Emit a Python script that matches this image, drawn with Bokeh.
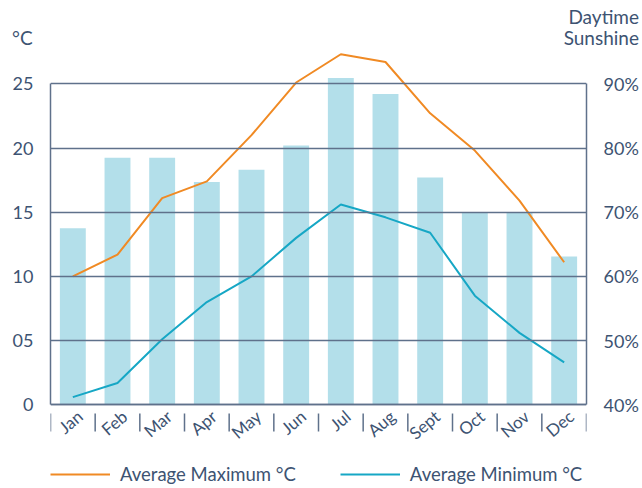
from bokeh.plotting import figure
from bokeh.layouts import column
from bokeh.models import (Range1d, LinearAxis, FixedTicker, Legend, LegendItem,
                          ColumnDataSource, Div)
from bokeh.embed import file_html
from bokeh.resources import INLINE

# ---------------- data ----------------
months = ["Jan", "Feb", "Mar", "Apr", "May", "Jun", "Jul", "Aug", "Sept", "Oct", "Nov", "Dec"]
sunshine_pct = [67.5, 78.5, 78.5, 74.7, 76.6, 80.4, 90.9, 88.4, 75.4, 70.0, 70.0, 63.1]
avg_max = [10.0, 11.7, 16.1, 17.4, 21.0, 25.1, 27.3, 26.7, 22.7, 19.8, 15.9, 11.1]
avg_min = [0.6, 1.7, 5.1, 8.0, 10.0, 13.0, 15.6, 14.6, 13.4, 8.5, 5.6, 3.3]
temp_ticks = [0, 5, 10, 15, 20, 25]
temp_tick_labels = ["0", "05", "10", "15", "20", "25"]
pct_ticks = [40, 50, 60, 70, 80, 90]
pct_tick_labels = ["40%", "50%", "60%", "70%", "80%", "90%"]
left_title = "°C"
right_title = ["Daytime", "Sunshine"]
series_names = ["Average Maximum °C", "Average Minimum °C"]

# ---------------- style ----------------
FONT = "Lato"
TEXT = "#3d5372"
GRID = "#5f718b"
BAR = "#b3dfea"
ORANGE = "#f08a24"
TEAL = "#16a7c5"

W = 642
HEAD_H = 46
MAIN_H = 488 - HEAD_H

# temperature scale: 25 units shown between the axis and the top line, with headroom
# above (for the max line) and room below (for month labels and legend) inside the frame
T_START, T_END = -6.52, 27.75
P_START, P_END = 40 + T_START * 2, 40 + T_END * 2   # sunshine scale 40..90 <-> 0..25
SEP_TOP, SEP_BOTTOM = -0.68, -2.08                  # separator marks below the axis

# ---------------- header (axis titles) ----------------
head_html = (
    f'<div style="position:relative;width:{W}px;height:{HEAD_H}px;font-family:{FONT};'
    f'color:{TEXT};font-size:19px;line-height:21px;">'
    f'<div style="position:absolute;left:12px;top:27px;white-space:nowrap;">{left_title}</div>'
    f'<div style="position:absolute;right:3px;top:6px;text-align:right;white-space:nowrap;">'
    f'{right_title[0]}<br>{right_title[1]}</div></div>'
)
head = Div(text=head_html, width=W, height=HEAD_H, margin=0)

# ---------------- main chart ----------------
xpos = [i + 0.5 for i in range(len(months))]
label_pos = [x + 0.16 for x in xpos]
bounds_x = list(range(len(months) + 1))
src = ColumnDataSource(dict(x=xpos, month=months, sun=sunshine_pct, tmax=avg_max, tmin=avg_min))

p = figure(width=W, height=MAIN_H, x_range=Range1d(0, len(months)),
           y_range=Range1d(T_START, T_END),
           output_backend="svg", toolbar_location=None,
           min_border_left=50, min_border_right=56, min_border_top=2, min_border_bottom=0)
p.extra_y_ranges = {"pct": Range1d(P_START, P_END)}
p.background_fill_color = "white"
p.border_fill_color = "white"
p.outline_line_color = None

# grid
p.xgrid.visible = False
p.ygrid.ticker = FixedTicker(ticks=temp_ticks)
p.ygrid.grid_line_color = GRID
p.ygrid.grid_line_width = 1.5
p.ygrid.level = "glyph"

# left axis
ya = p.yaxis[0]
ya.ticker = FixedTicker(ticks=temp_ticks)
ya.bounds = (0, 25)
ya.major_label_overrides = dict(zip(temp_ticks, temp_tick_labels))
ya.axis_line_color = GRID
ya.axis_line_width = 1.5
ya.major_tick_in = 0
ya.major_tick_out = 0
ya.minor_tick_line_color = None
ya.major_label_standoff = 17
ya.major_label_text_font = FONT
ya.major_label_text_font_size = "18px"
ya.major_label_text_color = TEXT

# right axis
ra = LinearAxis(y_range_name="pct", ticker=FixedTicker(ticks=pct_ticks), bounds=(40, 90),
                major_label_overrides=dict(zip(pct_ticks, pct_tick_labels)))
ra.axis_line_color = GRID
ra.axis_line_width = 1.5
ra.major_tick_in = 0
ra.major_tick_out = 0
ra.minor_tick_line_color = None
ra.major_label_standoff = 17
ra.major_label_text_font = FONT
ra.major_label_text_font_size = "18px"
ra.major_label_text_color = TEXT
p.add_layout(ra, "right")

# bottom axis at 0 °C with month labels
xa = p.xaxis[0]
xa.fixed_location = 0
xa.ticker = FixedTicker(ticks=label_pos)
xa.major_label_overrides = dict(zip(label_pos, months))
xa.major_label_orientation = 0.7
xa.axis_line_color = GRID
xa.axis_line_width = 1.5
xa.major_tick_in = 0
xa.major_tick_out = 0
xa.minor_tick_line_color = None
xa.major_label_standoff = 9
xa.major_label_text_font = FONT
xa.major_label_text_font_size = "17px"
xa.major_label_text_color = TEXT

# separators between months, below the axis
p.segment(x0=bounds_x, y0=[SEP_TOP] * len(bounds_x), x1=bounds_x,
          y1=[SEP_BOTTOM] * len(bounds_x), line_color=GRID, line_width=1.5)

# bars (sunshine %)
p.vbar(x="x", top="sun", bottom=40, width=0.58, source=src, y_range_name="pct",
       fill_color=BAR, line_color=None, level="underlay")

# lines
r_max = p.line("x", "tmax", source=src, line_color=ORANGE, line_width=2)
r_min = p.line("x", "tmin", source=src, line_color=TEAL, line_width=2)

legend = Legend(items=[LegendItem(label=series_names[0], renderers=[r_max]),
                       LegendItem(label=series_names[1], renderers=[r_min])],
                orientation="horizontal", location=(0, 3), glyph_width=60, glyph_height=20,
                label_standoff=10, spacing=44, padding=0, margin=0,
                border_line_color=None, background_fill_alpha=0,
                label_text_font=FONT, label_text_font_size="18.5px", label_text_color=TEXT)
p.add_layout(legend)

layout = column(head, p, spacing=0)
open("out.html", "w").write(file_html(layout, INLINE))
